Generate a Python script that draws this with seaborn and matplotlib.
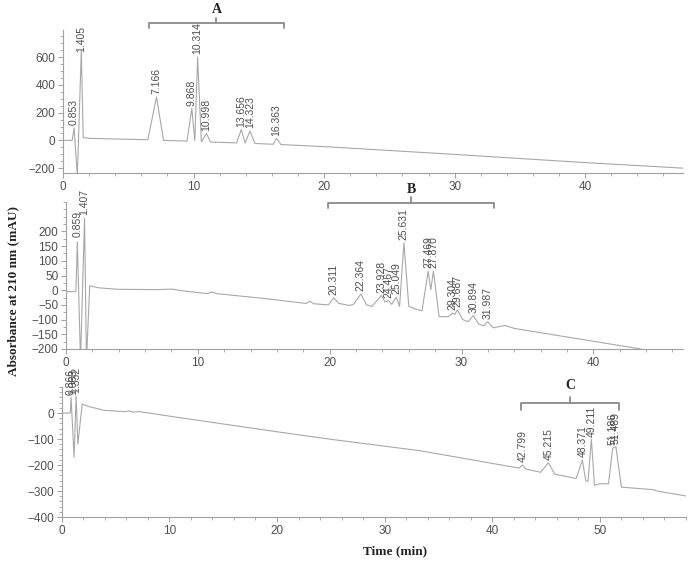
import matplotlib
matplotlib.use("Agg")
import matplotlib.pyplot as plt
import matplotlib.transforms as mtransforms
from matplotlib.ticker import MultipleLocator, FixedLocator
import seaborn as sns

# --- panel A: trace vertices (time, mAU)
time_a = [0, 0.7, 0.853, 1.1, 1.405, 1.55, 2, 4, 6.5, 7.166, 7.7, 9.5, 9.868, 10.1,
          10.314, 10.6, 10.998, 11.3, 13.3, 13.656, 13.95, 14.323, 14.7, 16.1, 16.363,
          16.7, 20.6, 30, 40, 47.5]
abs_a = [0, 0, 90, -260, 650, 20, 15, 10, 5, 313, 0, -5, 230, 0,
         600, -10, 50, -12, -18, 78, -20, 67, -22, -28, 14,
         -30, -48, -101, -160, -200]
peaks_a = [0.853, 1.405, 7.166, 9.868, 10.314, 10.998, 13.656, 14.323, 16.363]
apex_a = [90, 620, 313, 230, 600, 50, 78, 67, 14]

# --- panel B
time_b = [0, 0.75, 0.859, 1.1, 1.407, 1.55, 1.8, 2.5, 4, 7, 8, 9, 10.8, 11, 11.5, 15,
          18.2, 18.5, 18.8, 19.9, 20.311, 20.7, 21.5, 21.8, 22.364, 22.8, 23.2, 23.928,
          24.2, 24.467, 24.7, 25.049, 25.3, 25.631, 26.0, 26.5, 27.0, 27.469, 27.67,
          27.87, 28.3, 29.0, 29.304, 29.5, 29.687, 30.1, 30.5, 30.894, 31.3, 31.7,
          31.987, 32.4, 33.3, 34, 43.6]
abs_b = [-5, -5, 165, -240, 245, -240, 15, 8, 3, 2, 4, -3, -12, -6, -12, -28,
         -45, -38, -46, -50, -26, -45, -52, -48, -13, -50, -55, -18,
         -40, -35, -48, -24, -55, 161, -55, -64, -70, 65, 2,
         65, -90, -90, -78, -82, -67, -100, -107, -86, -115, -121,
         -107, -128, -120, -130, -200]
peaks_b = [0.859, 1.407, 20.311, 22.364, 23.928, 24.467, 25.049, 25.631, 27.469,
           27.870, 29.304, 29.687, 30.894, 31.987]
apex_b = [170, 245, -26, -13, -18, -35, -24, 161, 65, 65, -78, -67, -86, -107]

# --- panel C
time_c = [0, 0.8, 0.866, 1.15, 1.332, 1.5, 1.9, 2.5, 3.5, 4, 6, 6.2, 6.5, 7.3, 10, 20,
          25, 33.3, 42.5, 42.799, 43.1, 44.5, 45.215, 45.8, 47.8, 48.371, 48.7, 48.9,
          49.211, 49.5, 50, 50.8, 51.186, 51.489, 52.0, 55, 55.3, 58]
abs_c = [0, 0, 60, -170, 65, -120, 35, 25, 15, 10, 5, 9, 4, 5, -12, -72,
         -101, -145, -212, -200, -215, -228, -191, -235, -252, -181, -262, -262,
         -101, -278, -272, -272, -135, -130, -285, -295, -300, -319]
peaks_c = [0.866, 1.063, 1.332, 42.799, 45.215, 48.371, 49.211, 51.186, 51.489]
apex_c = [60, 60, 65, -200, -191, -181, -101, -135, -130]

panels = [
    dict(t=time_a, y=abs_a, pk=peaks_a, ap=apex_a, rect=[0.0914, 0.6916, 0.9000, 0.2549],
         xlim=(0, 47.5), ylim=(-235, 795), yticks=[-200, 0, 200, 400, 600], ymin=50,
         xticks=[0, 10, 20, 30, 40], bracket=(6.6, 16.9), by=(1.049, 0.035, 1.084, 1.14), name="A"),
    dict(t=time_b, y=abs_b, pk=peaks_b, ap=apex_b, rect=[0.0958, 0.3779, 0.8955, 0.2620],
         xlim=(0, 46.8), ylim=(-200, 300), yticks=list(range(-200, 201, 50)), ymin=25,
         xticks=[0, 10, 20, 30, 40], bracket=(19.9, 32.5), by=(0.993, 0.034, 1.034, 1.082), name="B"),
    dict(t=time_c, y=abs_c, pk=peaks_c, ap=apex_c, rect=[0.0896, 0.0784, 0.9060, 0.2317],
         xlim=(0, 58), ylim=(-400, 100), yticks=[-400, -300, -200, -100, 0], ymin=20,
         xticks=[0, 10, 20, 30, 40, 50], bracket=(42.7, 51.75), by=(0.877, 0.054, 0.923, 1.015), name="C"),
]

sns.set_style("ticks")
plt.rcParams['font.family'] = ['Liberation Sans', 'DejaVu Sans']

line_col = "#a8a8a8"
text_col = "#505050"
axis_col = "#a0a0a0"

fig = plt.figure(figsize=(6.89, 5.61), dpi=100)

for p in panels:
    ax = fig.add_axes(p["rect"])
    sns.lineplot(x=p["t"], y=p["y"], sort=False, estimator=None, color=line_col,
                 linewidth=0.8, ax=ax)
    ax.set_xlim(*p["xlim"])
    ax.set_ylim(*p["ylim"])
    ax.yaxis.set_major_locator(FixedLocator(p["yticks"]))
    ax.yaxis.set_minor_locator(MultipleLocator(p["ymin"]))
    ax.xaxis.set_major_locator(FixedLocator(p["xticks"]))
    ax.xaxis.set_minor_locator(MultipleLocator(2))
    sns.despine(ax=ax)
    for s in ["left", "bottom"]:
        ax.spines[s].set_color(axis_col)
        ax.spines[s].set_linewidth(0.8)
    ax.tick_params(which="major", length=3.5, width=0.7, color=axis_col,
                   labelsize=8.5, labelcolor=text_col, pad=2)
    ax.tick_params(which="minor", length=2, width=0.6, color=axis_col)
    ax.set_facecolor("none")

    # retention time labels
    for rt, h in zip(p["pk"], p["ap"]):
        ax.annotate(f"{rt:.3f}", xy=(rt, h), xytext=(0, 2), textcoords="offset points",
                    rotation=90, ha="center", va="bottom", fontsize=7.5, color=text_col,
                    annotation_clip=False)

    # bracket marking the peak group
    x0, x1 = p["bracket"]
    yb, drop, rise, ly = p["by"]
    tr = mtransforms.blended_transform_factory(ax.transData, ax.transAxes)
    xm = (x0 + x1) / 2
    ax.plot([x0, x0, x1, x1], [yb - drop, yb, yb, yb - drop], color="#8a8a8a",
            lw=1.3, transform=tr, clip_on=False)
    ax.plot([xm, xm], [yb, rise], color="#8a8a8a", lw=1.3, transform=tr, clip_on=False)
    ax.text(xm, ly, p["name"], transform=tr, ha="center", va="center", fontsize=10,
            fontweight="bold", family=["Liberation Serif"], color="#222222")

fig.text(0.019, 0.481, "Absorbance at 210 nm (mAU)", rotation=90, ha="center", va="center",
         fontsize=9.5, fontweight="bold", family=["Liberation Serif"], color="#222222")
fig.text(0.573, 0.0166, "Time (min)", ha="center", va="center",
         fontsize=9.5, fontweight="bold", family=["Liberation Serif"], color="#222222")

fig.savefig("out.png", dpi=100, facecolor="white")
